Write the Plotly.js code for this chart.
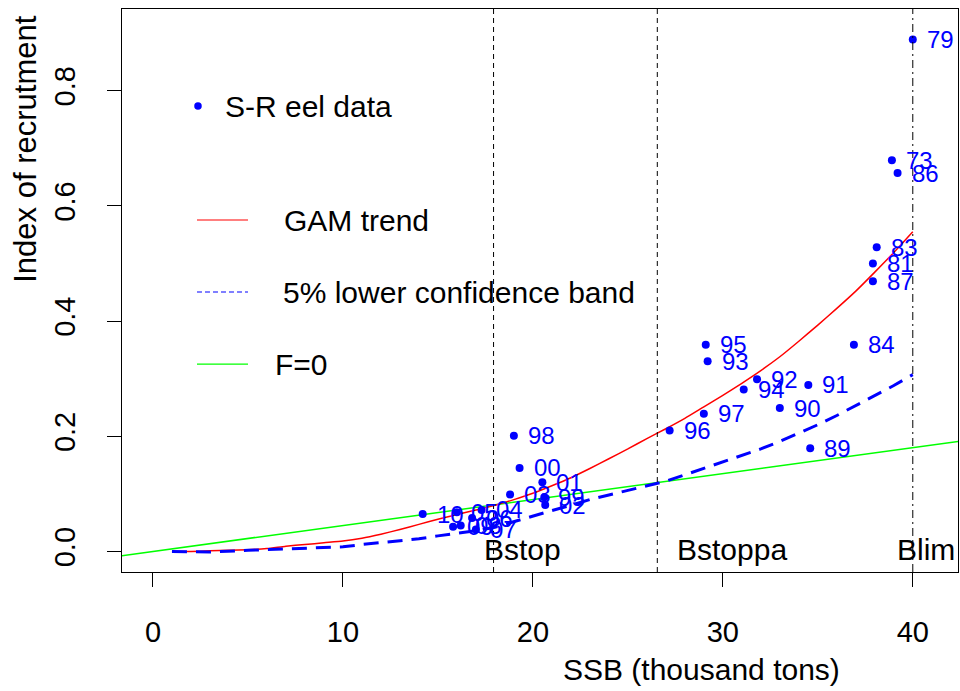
<!DOCTYPE html>
<html>
<head>
<meta charset="utf-8">
<script src="https://cdn.plot.ly/plotly-3.0.1.min.js"></script>
<style>html,body{margin:0;padding:0;background:#fff;}#chart{width:960px;height:691px;}</style>
</head>
<body>
<div id="chart"></div>
<script>
// Observed S-R eel data (SSB in thousand tons, recruitment index, year label)
var ssb = [40.0, 38.9, 39.2, 38.1, 37.9, 37.9, 36.9, 29.1, 29.2, 31.8, 31.1, 34.5, 33.0, 29.0, 27.2, 34.6,
           19.0, 19.3, 20.5, 18.8, 20.6, 20.65, 14.2, 16.0, 17.3, 16.8, 15.8, 16.2, 17.0];
var recruit = [0.889, 0.679, 0.657, 0.528, 0.500, 0.469, 0.359, 0.359, 0.330, 0.299, 0.281, 0.289, 0.249, 0.239, 0.210, 0.179,
               0.201, 0.145, 0.120, 0.099, 0.094, 0.0805, 0.065, 0.068, 0.072, 0.058, 0.043, 0.045, 0.038];
var years = ["79", "73", "86", "83", "81", "87", "84", "95", "93", "92", "94", "91", "90", "97", "96", "89",
             "98", "00", "01", "03", "99", "02", "10", "05", "04", "06", "09", "08", "07"];

// GAM trend
var gamX = [1,2,3,4,5,6,7,8,9,10,11,12,13,14,15,16,17,18,19,20,21,22,23,24,25,26,27,28,29,30,31,32,33,34,35,36,37,38,39,40];
var gamY = [0.0,0.0,0.001,0.002,0.003,0.005,0.009,0.012,0.015,0.018,0.023,0.03,0.038,0.047,0.056,0.064,0.072,0.08,0.09,0.101,
            0.114,0.128,0.144,0.161,0.178,0.196,0.213,0.231,0.251,0.271,0.292,0.314,0.338,0.365,0.393,0.422,0.452,0.485,0.519,0.555];
// 5% lower confidence band
var lowX = [1,3,5,7,9,10,11,12,13,14,15,16,17,18,19,20,21,22,23,24,25,26,27,28,29,30,31,32,33,34,35,36,37,38,39,40];
var lowY = [0.0,-0.001,0.002,0.004,0.006,0.008,0.012,0.015,0.018,0.022,0.027,0.031,0.036,0.042,0.052,0.062,0.071,0.08,0.09,0.098,
            0.106,0.113,0.122,0.133,0.144,0.155,0.166,0.178,0.191,0.205,0.22,0.236,0.253,0.27,0.288,0.307];
// F=0 replacement line
var f0X = [-3, 45];
var f0Y = [-0.0135, 0.2025];

// Reference points
var refNames = ["Bstop", "Bstoppa", "Blim"];
var refX = [17.93, 26.55, 40.0];
var refDash = ["dash", "dash", "dashdot"];
var refLabelX = [17.3, 27.5, 39.05];
var refLabelY = 0.003;

var xTicks = [0, 10, 20, 30, 40];
var yTicks = [0.0, 0.2, 0.4, 0.6, 0.8];

var FONT = "Liberation Sans, Arial, sans-serif";

var traces = [
  {x: f0X, y: f0Y, mode: "lines", line: {color: "#00ff00", width: 1.5}, hoverinfo: "skip"},
  {x: gamX, y: gamY, mode: "lines", line: {color: "#ff0000", width: 1.5, shape: "spline", smoothing: 0.6}, hoverinfo: "skip"},
  {x: lowX, y: lowY, mode: "lines", line: {color: "#0000ff", width: 3, dash: "15px,9px"}, hoverinfo: "skip"},
  {x: ssb, y: recruit, mode: "markers", marker: {color: "#0000ff", size: 8}, hoverinfo: "skip"}
];

var shapes = refX.map(function (v, i) {
  return {type: "line", xref: "x", yref: "paper", x0: v, x1: v, y0: 0, y1: 1,
          line: {color: "#000", width: 1, dash: refDash[i] === "dash" ? "5px,4px" : "8px,4px,2px,4px"}};
});

var annotations = ssb.map(function (v, i) {
  return {x: v, y: recruit[i], xref: "x", yref: "y", text: years[i], showarrow: false,
          xanchor: "left", yanchor: "middle", xshift: 12,
          font: {family: FONT, size: 24, color: "#0000ff"}};
});
refNames.forEach(function (n, i) {
  annotations.push({x: refLabelX[i], y: refLabelY, xref: "x", yref: "y", text: n, showarrow: false,
                    xanchor: "left", yanchor: "middle", font: {family: FONT, size: 30, color: "#000"}});
});

// Legend drawn manually
var legItems = [
  {label: "S-R eel data", y: 0.8277, tx: 0.1208, kind: "dot"},
  {label: "GAM trend", y: 0.6252, tx: 0.1914, kind: "line", color: "#ff0000", dash: "solid"},
  {label: "5% lower confidence band", y: 0.4973, tx: 0.1902, kind: "line", color: "#0000ff", dash: "5px,3px"},
  {label: "F=0", y: 0.3694, tx: 0.1806, kind: "line", color: "#00ff00", dash: "solid"}
];
legItems.forEach(function (it) {
  if (it.kind === "dot") {
    shapes.push({type: "circle", xref: "paper", yref: "paper", x0: 0.0909 - 0.0045, x1: 0.0909 + 0.0045,
                 y0: it.y - 0.0067, y1: it.y + 0.0067, fillcolor: "#0000ff", line: {width: 0}});
  } else {
    shapes.push({type: "line", xref: "paper", yref: "paper", x0: 0.0897, x1: 0.1507, y0: it.y, y1: it.y,
                 line: {color: it.color, width: 1.2, dash: it.dash}});
  }
  annotations.push({x: it.tx, y: it.y, xref: "paper", yref: "paper", text: it.label, showarrow: false,
                    xanchor: "left", yanchor: "middle", font: {family: FONT, size: 30, color: "#000"}});
});

// Axis titles
annotations.push({x: -0.1148, y: 0.75, xref: "paper", yref: "paper", text: "Index of recrutment", textangle: -90,
                  showarrow: false, xanchor: "center", yanchor: "middle", font: {family: FONT, size: 31, color: "#000"}});
annotations.push({x: 0.693, y: -0.174, xref: "paper", yref: "paper", text: "SSB (thousand tons)",
                  showarrow: false, xanchor: "center", yanchor: "middle", font: {family: FONT, size: 30, color: "#000"}});

var layout = {
  width: 960, height: 691,
  margin: {l: 122, r: 2, t: 9, b: 119},
  paper_bgcolor: "#fff", plot_bgcolor: "#fff",
  showlegend: false,
  font: {family: FONT, size: 29, color: "#000"},
  xaxis: {range: [-1.63, 42.38], tickvals: xTicks, ticktext: xTicks.map(String), ticks: "outside", ticklen: 14,
          tickcolor: "#000", showline: true, mirror: true, linecolor: "#000", linewidth: 1, showgrid: false,
          zeroline: false, ticklabelstandoff: 20, tickfont: {family: FONT, size: 29, color: "#000"}},
  yaxis: {range: [-0.0357, 0.9418], tickvals: yTicks, ticktext: yTicks.map(function (v) { return v.toFixed(1); }),
          ticks: "outside", ticklen: 14, tickcolor: "#000", showline: true, mirror: true, linecolor: "#000", linewidth: 1,
          showgrid: false, zeroline: false, tickangle: -90, ticklabelstandoff: 20,
          tickfont: {family: FONT, size: 29, color: "#000"}},
  shapes: shapes,
  annotations: annotations
};

Plotly.newPlot("chart", traces, layout, {staticPlot: true});
</script>
</body>
</html>
